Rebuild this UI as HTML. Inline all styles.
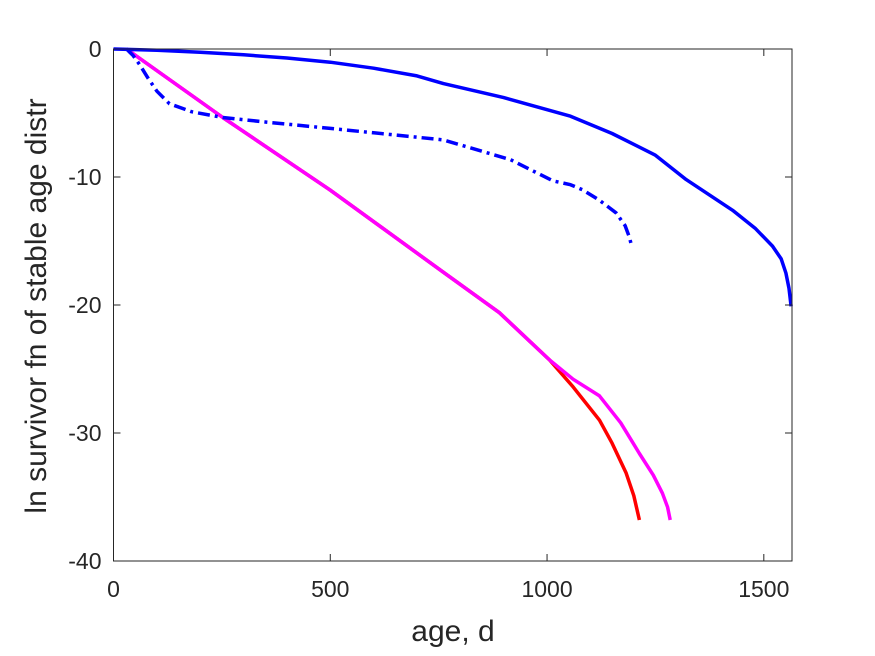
<!DOCTYPE html>
<html><head><meta charset="utf-8"><style>
body{margin:0;background:#fff;}
svg{display:block;font-family:"Liberation Sans",Arial,sans-serif;}
</style></head><body>
<svg id="chart" width="875" height="656" viewBox="0 0 875 656">
<rect width="875" height="656" fill="#fff"/>
<g id="plot"></g>
<g id="axes"></g>
<text x="453" y="641" font-size="30" text-anchor="middle" fill="#262626">age, d</text>
<text transform="translate(46,306) rotate(-90)" font-size="30" text-anchor="middle" fill="#262626">ln survivor fn of stable age distr</text>
</svg>
<script>
const xTicks=[0,500,1000,1500];
const yTicks=[0,-10,-20,-30,-40];
const blueSolidX=[0,100,200,300,400,500,600,700,761,900,1054,1150,1250,1321,1428,1480,1520,1540,1551,1558,1563];
const blueSolidY=[0,-0.1,-0.25,-0.45,-0.7,-1.03,-1.5,-2.1,-2.7,-3.8,-5.25,-6.6,-8.3,-10.2,-12.6,-14.0,-15.4,-16.4,-17.5,-18.7,-20.1];
const blueDashX=[30,45,60,80,100,129,180,252,350,500,600,761,916,1013,1054,1082,1120,1159,1180,1190,1196];
const blueDashY=[0,-0.5,-1.2,-2.3,-3.3,-4.27,-4.9,-5.35,-5.7,-6.2,-6.55,-7.1,-8.65,-10.3,-10.6,-11.0,-11.8,-12.8,-13.8,-14.7,-15.5];
const redX=[30,252,499,759,890,1006,1060,1121,1150,1182,1200,1213];
const redY=[0,-5.35,-11.0,-17.4,-20.6,-24.3,-26.4,-29.0,-30.8,-33.1,-34.9,-36.8];
const magX=[30,252,499,759,890,1006,1060,1121,1170,1213,1245,1266,1278,1284];
const magY=[0,-5.35,-11.0,-17.4,-20.6,-24.3,-25.8,-27.1,-29.2,-31.6,-33.3,-34.7,-35.8,-36.8];
const X0=113.5,X1=792,Y0=49,Y1=561,XMAX=1565,YMIN=-40,YMAX=0;
const sx=v=>X0+(v/XMAX)*(X1-X0);
const sy=v=>Y0+(YMAX-v)/(YMAX-YMIN)*(Y1-Y0);
const NS='http://www.w3.org/2000/svg';
const plot=document.getElementById('plot'),axes=document.getElementById('axes');
function line(xs,ys,color,name,dash){
  const p=document.createElementNS(NS,'path');
  
  
  p.setAttribute('d',xs.map((x,i)=>(i?'L':'M')+sx(x).toFixed(1)+','+sy(ys[i]).toFixed(1)).join(''));
  p.setAttribute('fill','none');p.setAttribute('stroke',color);p.setAttribute('stroke-width','3.5');
  p.setAttribute('stroke-linejoin','round');
  if(dash)p.setAttribute('stroke-dasharray',dash);
  plot.appendChild(p);
}
line(redX,redY,'#ff0000','red-series');
line(magX,magY,'#ff00ff','magenta-series');
line(blueDashX,blueDashY,'#0000ff','blue-dashdot-series','12,5,3,5');
line(blueSolidX,blueSolidY,'#0000ff','blue-solid-series');
const box=document.createElementNS(NS,'rect');


box.setAttribute('x',X0);box.setAttribute('y',Y0);box.setAttribute('width',X1-X0);box.setAttribute('height',Y1-Y0);
box.setAttribute('fill','none');box.setAttribute('stroke','#262626');box.setAttribute('stroke-width','1');
axes.appendChild(box);
xTicks.forEach(t=>{
  const x=sx(t);
  const l=document.createElementNS(NS,'path');
  
  
  l.setAttribute('d',`M${x},${Y1}V${Y1-7}M${x},${Y0}V${Y0+7}`);l.setAttribute('stroke','#262626');
  axes.appendChild(l);
  const tx=document.createElementNS(NS,'text');
  
  
  tx.setAttribute('x',x);tx.setAttribute('y',Y1+36);tx.setAttribute('font-size','23');
  tx.setAttribute('text-anchor','middle');tx.setAttribute('fill','#262626');tx.textContent=t;
  axes.appendChild(tx);
});
yTicks.forEach(t=>{
  const y=sy(t);
  const l=document.createElementNS(NS,'path');
  
  
  l.setAttribute('d',`M${X0},${y}H${X0+7}M${X1},${y}H${X1-7}`);l.setAttribute('stroke','#262626');
  axes.appendChild(l);
  const tx=document.createElementNS(NS,'text');
  
  
  tx.setAttribute('x',X0-12);tx.setAttribute('y',y+8);tx.setAttribute('font-size','23');
  tx.setAttribute('text-anchor','end');tx.setAttribute('fill','#262626');tx.textContent=t;
  axes.appendChild(tx);
});
</script>
</body></html>
